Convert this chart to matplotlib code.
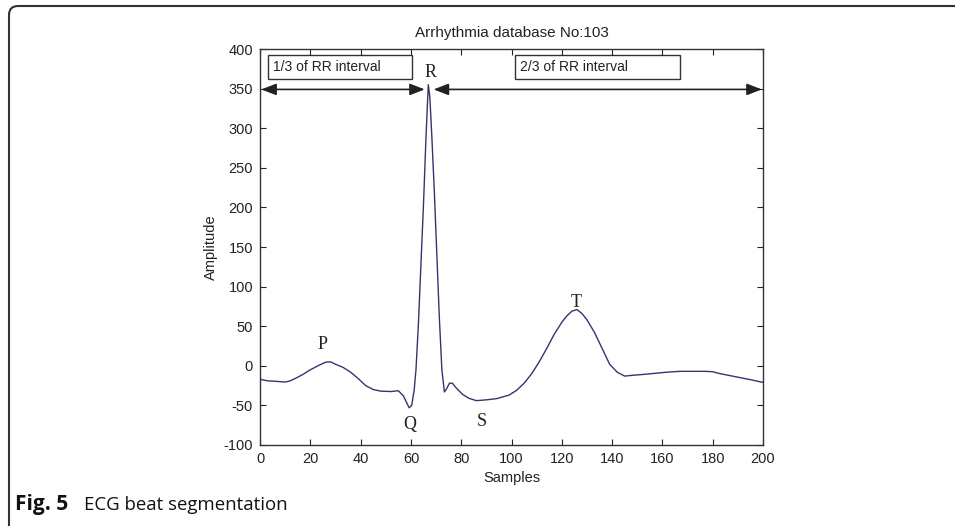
import matplotlib.pyplot as plt
from matplotlib.patches import FancyBboxPatch, Rectangle

plt.rcParams['font.family'] = ['Liberation Sans', 'DejaVu Sans']
plt.rcParams['axes.unicode_minus'] = False

# ECG beat
samples = [0, 3, 6, 10, 12, 14, 17, 20, 23, 26, 28, 30, 33, 36, 39, 42, 45, 48,
           52, 55, 57, 58.5, 59.3, 60.3, 61.3, 62, 63, 64, 65, 66, 66.9, 67.5,
           68.3, 69.3, 70.3, 71.3, 72.3, 73.3, 74, 75.3, 76.5, 78, 80.5, 83, 86,
           90, 94, 99, 102, 105, 108, 111, 114, 117, 120, 122, 124, 126, 128,
           130, 133, 136, 139, 142, 145, 148, 152, 157, 162, 167, 172, 177, 180,
           183, 187, 191, 195, 200]
amplitude = [-17, -19, -19.5, -20.5, -19, -16, -11, -5, 0, 4.5, 5, 2, -2, -8,
             -16, -25, -30, -32, -32.5, -31.5, -38, -48, -53, -50, -30, -5, 55,
             130, 205, 290, 355, 340, 290, 220, 140, 60, -5, -33, -30, -22, -22,
             -28, -36, -41, -44, -43, -41.5, -37, -31, -22, -10, 5, 22, 40, 55,
             63, 69, 71, 66, 58, 42, 22, 2, -8, -13, -12, -11, -9.5, -8, -7, -7,
             -7, -7.5, -10, -12.5, -15, -17.5, -21]

wave_labels = ['P', 'Q', 'R', 'S', 'T']
wave_x = [25, 59.5, 67.7, 88, 125.7]
wave_y = [27, -74, 370, -70, 80]

box_texts = ['1/3 of RR interval', '2/3 of RR interval']
box_x0 = [3, 101.5]
box_x1 = [60.5, 167]
box_y0 = 362
box_y1 = 392

arrow_spans = [(0.5, 65.5), (69, 199.5)]
arrow_y = 349

fig = plt.figure(figsize=(9.55, 5.26), dpi=100)
ax = fig.add_axes([0.2723, 0.154, 0.5267, 0.7528])

ax.plot(samples, amplitude, color='#35356e', lw=1.0)

for t, a, b in zip(box_texts, box_x0, box_x1):
    ax.add_patch(Rectangle((a, box_y0), b - a, box_y1 - box_y0, fill=False,
                           edgecolor='#333333', lw=1.0))
    ax.text(a + 2, (box_y0 + box_y1) / 2, t, fontsize=10, va='center',
            ha='left', color='#222222')

for a, b in arrow_spans:
    ax.annotate('', xy=(b, arrow_y), xytext=(a, arrow_y),
                arrowprops=dict(arrowstyle='<|-|>,head_length=0.9,head_width=0.35',
                                color='#222222', lw=1.2, shrinkA=0, shrinkB=0))

for lab, x, y in zip(wave_labels, wave_x, wave_y):
    ax.text(x, y, lab, fontsize=13, family='Liberation Serif', ha='center',
            va='center', color='#222222')

ax.set_xlim(0, 200)
ax.set_ylim(-100, 400)
ax.set_xticks(range(0, 201, 20))
ax.set_yticks(range(-100, 401, 50))
ax.tick_params(direction='in', top=True, right=True, length=4, labelsize=10.5,
               colors='#222222', pad=5)
for s in ax.spines.values():
    s.set_color('#333333')
    s.set_linewidth(1.0)

ax.set_title('Arrhythmia database No:103', fontsize=11, color='#222222', pad=9)
ax.set_xlabel('Samples', fontsize=10.5, color='#222222', labelpad=4)
ax.set_ylabel('Amplitude', fontsize=10.5, color='#222222', labelpad=4)

# figure frame with rounded corner
frame = FancyBboxPatch((0.09, -0.3), 10.0, 5.2 + 0.3,
                       boxstyle='round,pad=0,rounding_size=0.09',
                       transform=fig.dpi_scale_trans, fill=False,
                       edgecolor='#333333', lw=1.5, clip_on=False)
fig.patches.append(frame)

fig.text(0.016, 0.04, 'Fig. 5', fontsize=15, fontweight='bold',
         family='Open Sans', va='center', ha='left', color='#111111')
fig.text(0.088, 0.04, 'ECG beat segmentation', fontsize=13.4,
         family='Open Sans', va='center', ha='left', color='#111111')

fig.savefig('out.png', dpi=100)
